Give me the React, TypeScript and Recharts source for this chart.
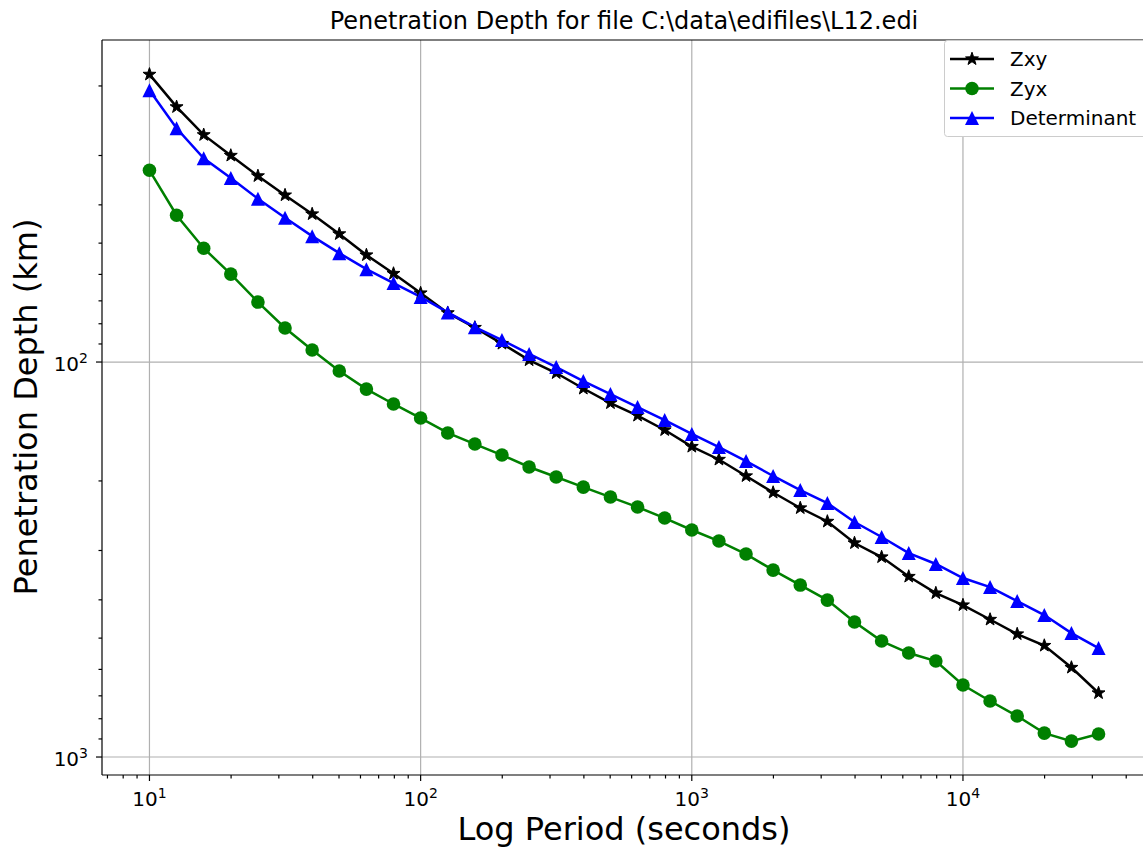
import React from 'react';
import { LineChart, Line, XAxis, YAxis, ReferenceLine, Legend } from 'recharts';

// periods (s), one sample every tenth of a decade
const periods = [
  10, 12.59, 15.85, 19.95, 25.12, 31.62, 39.81, 50.12, 63.1, 79.43,
  100, 125.9, 158.5, 199.5, 251.2, 316.2, 398.1, 501.2, 631, 794.3,
  1000, 1259, 1585, 1995, 2512, 3162, 3981, 5012, 6310, 7943,
  10000, 12589, 15849, 19953, 25119, 31623,
];

// penetration depth (km)
const zxy = [
  18.7, 22.6, 26.6, 30.0, 33.8, 37.8, 42.2, 47.4, 53.6, 59.7,
  66.9, 75.1, 81.8, 89.8, 98.9, 106.6, 116.7, 127.0, 136.6, 148.6,
  163.7, 176.5, 194.3, 214.0, 234.2, 253.3, 287.2, 311.7, 349.2, 384.6,
  412.4, 448.6, 488.3, 522.2, 593.5, 688.6,
];
const zyx = [
  32.7, 42.5, 51.5, 59.9, 70.5, 82.0, 93.2, 105.4, 117.1, 127.7,
  138.6, 151.2, 161.3, 172.0, 184.4, 195.5, 207.3, 219.7, 232.9, 248.3,
  266.2, 283.9, 306.3, 336.3, 367.0, 400.6, 455.2, 508.6, 545.5, 571.5,
  657.3, 721.4, 787.5, 869.8, 911.3, 874.7,
];
const det = [
  20.5, 25.6, 30.5, 34.2, 38.6, 43.1, 48.0, 53.0, 58.2, 63.1,
  68.4, 74.9, 81.6, 88.0, 95.4, 103.0, 111.7, 120.5, 130.0, 140.3,
  152.1, 164.2, 178.1, 194.3, 210.9, 227.5, 254.1, 277.3, 304.5, 324.6,
  352.3, 371.3, 402.9, 437.0, 485.5, 530.0,
];

// axis ticks
const xMajorTicks = [10, 100, 1000, 10000];
const xMajorLabels = ['1', '2', '3', '4'];
const xMinorTicks = [
  7, 8, 9, 20, 30, 40, 50, 60, 70, 80, 90,
  200, 300, 400, 500, 600, 700, 800, 900,
  2000, 3000, 4000, 5000, 6000, 7000, 8000, 9000,
  20000, 30000, 40000,
];
const yMajorTicks = [100, 1000];
const yMajorLabels = ['2', '3'];
const yMinorTicks = [20, 30, 40, 50, 60, 70, 80, 90, 200, 300, 400, 500, 600, 700, 800, 900];

const xDomain = [6.683, 47315];
const yDomain = [15.3, 1110.5];

const FONT = '"DejaVu Sans", sans-serif';
const GRID = '#b0b0b0';

const data = periods.map((p, i) => ({ period: p, zxy: zxy[i], zyx: zyx[i], det: det[i] }));

const starPoints = (cx: number, cy: number, R: number, r: number) => {
  const pts: string[] = [];
  for (let i = 0; i < 10; i++) {
    const a = -Math.PI / 2 + (i * Math.PI) / 5;
    const rad = i % 2 === 0 ? R : r;
    pts.push(`${cx + rad * Math.cos(a)},${cy + rad * Math.sin(a)}`);
  }
  return pts.join(' ');
};

const Star = ({ cx, cy }: { cx: number; cy: number }) => (
  <polygon points={starPoints(cx, cy, 6.8, 2.7)} fill="#000" stroke="#000" strokeWidth={1} strokeLinejoin="miter" />
);
const Dot = ({ cx, cy }: { cx: number; cy: number }) => <circle cx={cx} cy={cy} r={6.8} fill="#008000" />;
const Tri = ({ cx, cy }: { cx: number; cy: number }) => (
  <polygon points={`${cx},${cy - 7} ${cx - 7},${cy + 7} ${cx + 7},${cy + 7}`} fill="#0000ff" />
);

const XTick = (props: any) => {
  const { x, y, payload } = props;
  const idx = xMajorTicks.indexOf(payload.value);
  const major = idx >= 0;
  return (
    <g>
      <line x1={x} x2={x} y1={y} y2={y + (major ? 6 : 3.5)} stroke="#000" strokeWidth={1.2} />
      {major && (
        <text x={x} y={y + 31} textAnchor="middle" fontSize={20} fontFamily={FONT} fill="#000">
          10<tspan dy={-8} fontSize={14}>{xMajorLabels[idx]}</tspan>
        </text>
      )}
    </g>
  );
};

const YTick = (props: any) => {
  const { x, y, payload } = props;
  const idx = yMajorTicks.indexOf(payload.value);
  const major = idx >= 0;
  return (
    <g>
      <line x1={x - (major ? 6 : 3.5)} x2={x} y1={y} y2={y} stroke="#000" strokeWidth={1.2} />
      {major && (
        <text x={x - 14} y={y + 9} textAnchor="end" fontSize={20} fontFamily={FONT} fill="#000">
          10<tspan dy={-8} fontSize={14}>{yMajorLabels[idx]}</tspan>
        </text>
      )}
    </g>
  );
};

const legendRows = [
  { name: 'Zxy', color: '#000', Mark: Star },
  { name: 'Zyx', color: '#008000', Mark: Dot },
  { name: 'Determinant', color: '#0000ff', Mark: Tri },
];

const LegendBox = () => (
  <svg width={212} height={98} style={{ display: 'block' }}>
    <rect x={0.5} y={0.5} width={220} height={96} rx={3} fill="#fff" stroke="#cccccc" />
    {legendRows.map((row, i) => {
      const cy = 19 + i * 29.5;
      const M = row.Mark;
      return (
        <g key={row.name}>
          <line x1={6} x2={50} y1={cy} y2={cy} stroke={row.color} strokeWidth={2.5} />
          <M cx={28} cy={cy} />
          <text x={66} y={cy + 7} fontSize={20} fontFamily={FONT} fill="#000">
            {row.name}
          </text>
        </g>
      );
    })}
  </svg>
);

export default function App() {
  return (
    <div style={{ position: 'absolute', left: 0, top: 0, width: 1143, height: 848, overflow: 'hidden', background: '#fff' }}>
      <LineChart width={1150} height={848} data={data} margin={{ top: 40, right: 4, bottom: 13, left: 2 }}>
        <XAxis
          dataKey="period"
          type="number"
          scale="log"
          domain={xDomain}
          allowDataOverflow
          ticks={[...xMajorTicks, ...xMinorTicks].sort((a, b) => a - b)}
          interval={0}
          tickSize={0}
          tickMargin={0}
          height={60}
          axisLine={{ stroke: '#000', strokeWidth: 1.2 }}
          tick={<XTick />}
        />
        <YAxis
          type="number"
          scale="log"
          domain={yDomain}
          allowDataOverflow
          reversed
          ticks={[...yMajorTicks, ...yMinorTicks].sort((a, b) => a - b)}
          interval={0}
          tickSize={0}
          tickMargin={0}
          width={100}
          axisLine={{ stroke: '#000', strokeWidth: 1.2 }}
          tick={<YTick />}
        />
        {xMajorTicks.map((v) => (
          <ReferenceLine key={`gx${v}`} x={v} stroke={GRID} strokeWidth={1.2} />
        ))}
        {yMajorTicks.map((v) => (
          <ReferenceLine key={`gy${v}`} y={v} stroke={GRID} strokeWidth={1.2} />
        ))}
        <ReferenceLine y={yDomain[0]} stroke="#000" strokeWidth={1.2} />
        <Line
          dataKey="zxy"
          name="Zxy"
          stroke="#000"
          strokeWidth={2.5}
          isAnimationActive={false}
          activeDot={false}
          dot={(p: any) => <Star key={`s${p.index}`} cx={p.cx} cy={p.cy} />}
        />
        <Line
          dataKey="zyx"
          name="Zyx"
          stroke="#008000"
          strokeWidth={2.5}
          isAnimationActive={false}
          activeDot={false}
          dot={(p: any) => <Dot key={`c${p.index}`} cx={p.cx} cy={p.cy} />}
        />
        <Line
          dataKey="det"
          name="Determinant"
          stroke="#0000ff"
          strokeWidth={2.5}
          isAnimationActive={false}
          activeDot={false}
          dot={(p: any) => <Tri key={`t${p.index}`} cx={p.cx} cy={p.cy} />}
        />
        <Legend
          layout="vertical"
          align="center"
          verticalAlign="middle"
          wrapperStyle={{ position: 'absolute', left: 944, top: 40, width: 212, height: 98 }}
          content={() => <LegendBox />}
        />
      </LineChart>
      <svg
        width={1143}
        height={848}
        style={{ position: 'absolute', left: 0, top: 0, pointerEvents: 'none' }}
      >
        <text x={624} y={29} textAnchor="middle" fontSize={24} fontFamily={FONT} fill="#000">
          Penetration Depth for file C:\data\edifiles\L12.edi
        </text>
        <text x={624} y={840} textAnchor="middle" fontSize={32} fontFamily={FONT} fill="#000">
          Log Period (seconds)
        </text>
        <text
          x={0}
          y={0}
          transform="translate(37,407) rotate(-90)"
          textAnchor="middle"
          fontSize={32}
          fontFamily={FONT}
          fill="#000"
        >
          Penetration Depth (km)
        </text>
      </svg>
    </div>
  );
}
